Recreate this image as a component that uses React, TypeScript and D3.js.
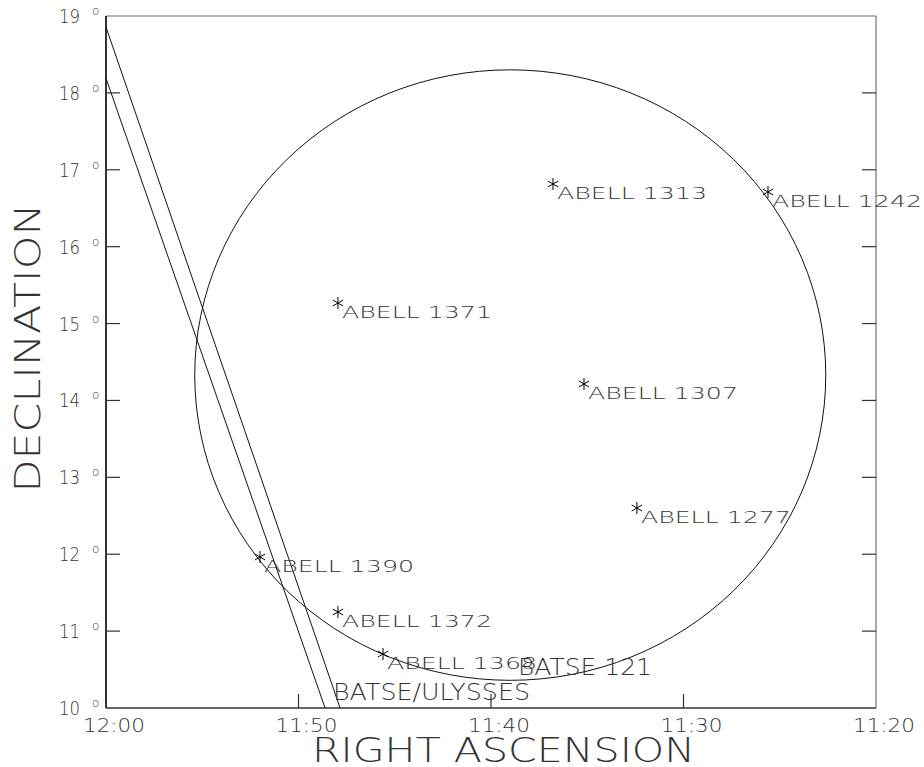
import React from "react";
import * as d3 from "d3";

// RA in minutes of time (11h40m = 700), Dec in degrees
const raTicks = [720, 710, 700, 690, 680];
const raTickLabels = ["12:00", "11:50", "11:40", "11:30", "11:20"];
const decTicks = [10, 11, 12, 13, 14, 15, 16, 17, 18, 19];

const clusterNames = ["ABELL 1313", "ABELL 1242", "ABELL 1371", "ABELL 1307", "ABELL 1277", "ABELL 1390", "ABELL 1372", "ABELL 1368"];
const clusterRA = [696.78, 685.61, 707.95, 695.17, 692.42, 712.0, 707.95, 705.61];
const clusterDec = [16.815, 16.711, 15.267, 14.214, 12.601, 11.964, 11.249, 10.702];

// BATSE error circle
const circleRA = 699.0;
const circleDec = 14.33;
const circleRadiusDeg = 3.97;

// BATSE/Ulysses annulus edges: [ra, dec] endpoints
const annulusA = [[720, 18.856], [707.84, 10]];
const annulusB = [[720, 18.19], [708.62, 10]];

const W = 924, H = 767;
const L = 106, R = 876, T = 16, B = 708;

const FONT = "'DejaVu Sans', sans-serif";
const TXT = "#333";

export default function App() {
  const x = d3.scaleLinear().domain([720, 680]).range([L, R]);
  const y = d3.scaleLinear().domain([10, 19]).range([B, T]);
  const line = d3.line<number[]>().x(d => x(d[0])).y(d => y(d[1]));

  const rxMin = circleRadiusDeg / (15 * Math.cos((circleDec * Math.PI) / 180)) * 60;
  const cx = x(circleRA), cy = y(circleDec);
  const rx = Math.abs(x(circleRA - rxMin) - cx);
  const ry = Math.abs(y(circleDec + circleRadiusDeg) - cy);

  const star = (px: number, py: number, key: number) => {
    const r = 6;
    const angs = [90, 30, 150];
    return (
      <g key={key} stroke="#000" strokeWidth={1}>
        {angs.map(a => {
          const dx = r * Math.cos((a * Math.PI) / 180);
          const dy = r * Math.sin((a * Math.PI) / 180);
          return <line key={a} x1={px - dx} y1={py - dy} x2={px + dx} y2={py + dy} />;
        })}
      </g>
    );
  };

  return (
    <svg width={W} height={H} style={{ position: "absolute", left: 0, top: 0, background: "#fff" }}>
      <rect x={0} y={0} width={W} height={H} fill="#fff" />
      {/* frame */}
      <line x1={L} y1={T} x2={R} y2={T} stroke="#666" strokeWidth={1} />
      <line x1={R} y1={T} x2={R} y2={B} stroke="#555" strokeWidth={1} />
      <line x1={L} y1={T} x2={L} y2={B} stroke="#000" strokeWidth={1.6} />
      <line x1={L} y1={B} x2={R} y2={B} stroke="#333" strokeWidth={1.6} />

      {/* dec ticks */}
      {decTicks.map(d => (
        <g key={d}>
          {d > 10 && d < 19 && <line x1={L} x2={L + 14} y1={y(d)} y2={y(d)} stroke="#333" strokeWidth={1.2} />}
          {d > 10 && d < 19 && <line x1={R - 14} x2={R} y1={y(d)} y2={y(d)} stroke="#333" strokeWidth={1.2} />}
          <text x={80} y={y(d) + 7} textAnchor="end" fontFamily={FONT} fontWeight={200} fontSize={19} fill={TXT} textLength={21} lengthAdjust="spacingAndGlyphs">{d}</text>
          <text x={92} y={y(d) - 1} fontFamily={FONT} fontWeight={200} fontSize={12} fill={TXT}>o</text>
        </g>
      ))}

      {/* RA ticks */}
      {raTicks.map((r, i) => (
        <g key={r}>
          {i > 0 && i < raTicks.length - 1 && <line x1={x(r)} x2={x(r)} y1={B - 14} y2={B} stroke="#333" strokeWidth={1.2} />}
          <text x={x(r) + 8} y={732} textAnchor="middle" fontFamily={FONT} fontWeight={200} fontSize={19} fill={TXT} textLength={62} lengthAdjust="spacingAndGlyphs">{raTickLabels[i]}</text>
        </g>
      ))}

      {/* axis titles */}
      <text x={312} y={762} fontFamily={FONT} fontWeight={200} fontSize={33} fill={TXT} textLength={383} lengthAdjust="spacingAndGlyphs">RIGHT ASCENSION</text>
      <text transform="translate(40,348) rotate(-90)" textAnchor="middle" fontFamily={FONT} fontWeight={200} fontSize={35} fill={TXT} textLength={289} lengthAdjust="spacingAndGlyphs">DECLINATION</text>

      {/* error circle */}
      <ellipse cx={cx} cy={cy} rx={rx} ry={ry} fill="none" stroke="#111" strokeWidth={1} />

      {/* annulus */}
      <path d={line(annulusA as number[][]) || ""} fill="none" stroke="#111" strokeWidth={1} />
      <path d={line(annulusB as number[][]) || ""} fill="none" stroke="#111" strokeWidth={1} />

      {/* clusters */}
      {clusterNames.map((n, i) => {
        const px = x(clusterRA[i]), py = y(clusterDec[i]);
        return (
          <g key={n}>
            {star(px, py, i)}
            <text x={px + 4} y={py + 15} fontFamily={FONT} fontWeight={200} fontSize={15} fill={TXT} textLength={150} lengthAdjust="spacingAndGlyphs">{n}</text>
          </g>
        );
      })}

      <text x={518} y={675} fontFamily={FONT} fontWeight={200} fontSize={23} fill={TXT} textLength={134} lengthAdjust="spacingAndGlyphs">BATSE 121</text>
      <text x={333} y={700} fontFamily={FONT} fontWeight={200} fontSize={23} fill={TXT} textLength={197} lengthAdjust="spacingAndGlyphs">BATSE/ULYSSES</text>
    </svg>
  );
}
